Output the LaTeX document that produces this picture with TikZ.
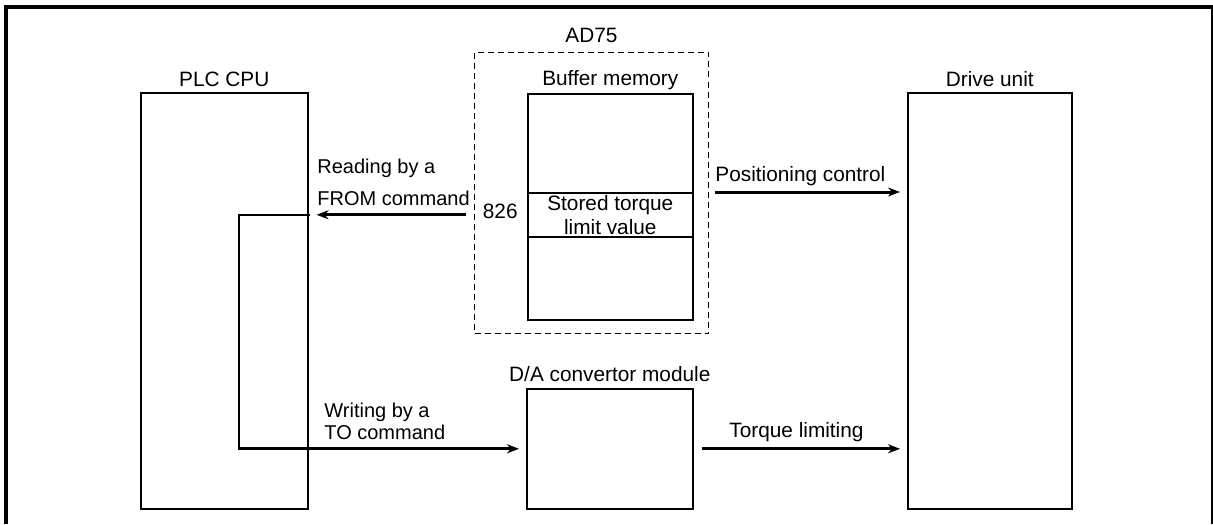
\documentclass[tikz,border=0pt]{standalone}
\usepackage{fontspec}
\setmainfont{Liberation Sans}
\usetikzlibrary{arrows.meta,positioning}
\tikzset{
  unitbox/.style={draw, line width=0.8pt, anchor=north west, inner sep=0pt},
  groupbox/.style={draw, dash pattern=on 3pt off 2pt, line width=0.5pt, anchor=north west, inner sep=0pt},
  flowarr/.style={-{Stealth[length=6pt,width=4.5pt]}, line width=1.5pt},
  linkln/.style={line width=1.1pt, line cap=rect},
  lbl/.style={inner sep=0pt},
  cmdlbl/.style={inner sep=0pt, align=left, anchor=base west, font=\fontsize{10pt}{12pt}\selectfont},
  frameln/.style={line width=2pt},
}

\begin{document}
\begin{tikzpicture}[x=0.5pt, y=-0.5pt, font=\fontsize{10.4pt}{12pt}\selectfont]
    \useasboundingbox (0,0) rectangle (1213,524);
    % Frame (open at the bottom)
    \draw[frameln] (6,524) -- (6,7) -- (1213,7);
    \draw[line width=1pt] (1212,7) -- (1212,524);
    % Units
    \node[unitbox, minimum width=83.5pt, minimum height=208pt] (plc) at (140,92) {};
    \node[groupbox, minimum width=117pt, minimum height=140.5pt] (ad75) at (474,52) {};
    \node[unitbox, minimum width=82.5pt, minimum height=113pt] (buf) at (527,93) {};
    \node[unitbox, minimum width=82.5pt, minimum height=22pt] (cell) at (527,192) {};
    \node[lbl, align=center] (celltxt) at (cell.center) {Stored torque\\limit value};
    \node[unitbox, minimum width=83pt, minimum height=60pt] (da) at (526,388) {};
    \node[unitbox, minimum width=82pt, minimum height=208pt] (drive) at (907,92) {};
    % Unit titles
    \node[lbl, anchor=base] (plclbl) at ([yshift=2.5pt]plc.north) {PLC CPU};
    \node[lbl, anchor=base] (adlbl) at ([yshift=4.5pt]ad75.north) {AD75};
    \node[lbl, anchor=base] (buflbl) at ([yshift=4pt]buf.north) {Buffer memory};
    \node[lbl, anchor=base] (dalbl) at ([yshift=3.5pt]da.north) {D/A convertor module};
    \node[lbl, anchor=base] (drvlbl) at ([yshift=2.5pt]drive.north) {Drive unit};
    \node[lbl, anchor=base east] (addr) at (518,218) {826};
    % Read: buffer memory -> PLC CPU
    \draw[flowarr, shorten <=4pt, shorten >=4pt] (ad75.west |- cell.center) -- (plc.east |- cell.center);
    \node[cmdlbl] (rdlbl) at (317,205) {Reading by a\\[4pt]FROM command};
    % Write: PLC CPU -> D/A convertor module
    \coordinate (bend) at (239,0);
    \draw[linkln] (plc.east |- cell.center) -| (bend |- da.west);
    \draw[flowarr, shorten >=3.5pt] (bend |- da.west) -- (da.west);
    \node[cmdlbl] (wrlbl) at (324,439) {Writing by a\\[-1pt]TO command};
    % Outputs to the drive unit
    \draw[flowarr, shorten <=3pt, shorten >=3.5pt] (ad75.east |- cell.north) -- (drive.west |- cell.north);
    \node[lbl, anchor=base west] (poslbl) at (715,181) {Positioning control};
    \draw[flowarr, shorten <=4pt, shorten >=3.5pt] (da.east) -- (drive.west |- da.east);
    \node[lbl, anchor=base west] (trqlbl) at (729,437) {Torque limiting};
\end{tikzpicture}
\end{document}
